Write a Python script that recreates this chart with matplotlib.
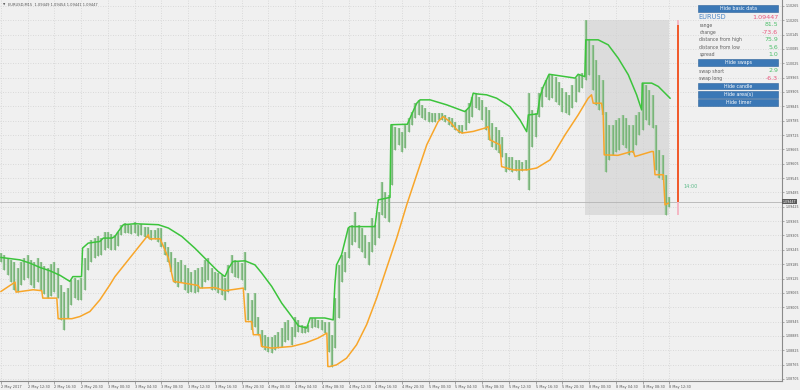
import matplotlib
matplotlib.use("Agg")
import matplotlib.pyplot as plt
from matplotlib.patches import Rectangle
import numpy as np

# ---------------- data (EURUSD, 30-minute bars) ----------------
bar_high = [
    1.09232, 1.09224, 1.09212, 1.09203, 1.09195, 1.09170, 1.09195, 1.09212, 1.09224, 1.09203,
    1.09195, 1.09212, 1.09195, 1.09178, 1.09170, 1.09186, 1.09195, 1.09170, 1.09099, 1.09069,
    1.09086, 1.09120, 1.09128, 1.09120, 1.09128, 1.09212, 1.09253, 1.09287, 1.09295, 1.09304,
    1.09295, 1.09320, 1.09320, 1.09312, 1.09308, 1.09320, 1.09350, 1.09358, 1.09354, 1.09350,
    1.09362, 1.09350, 1.09354, 1.09341, 1.09341, 1.09329, 1.09329, 1.09337, 1.09337, 1.09278,
    1.09257, 1.09237, 1.09212, 1.09195, 1.09203, 1.09182, 1.09170, 1.09153, 1.09161, 1.09170,
    1.09174, 1.09203, 1.09212, 1.09170, 1.09153, 1.09149, 1.09140, 1.09128, 1.09182, 1.09224,
    1.09203, 1.09195, 1.09191, 1.09237, 1.09065, 1.09036, 1.09065, 1.08965, 1.08911, 1.08890,
    1.08881, 1.08881, 1.08890, 1.08902, 1.08919, 1.08944, 1.08952, 1.08923, 1.08965, 1.08952,
    1.08932, 1.08927, 1.08932, 1.08961, 1.08961, 1.08952, 1.08952, 1.08944, 1.08944, 1.08890,
    1.09044, 1.09182, 1.09224, 1.09237, 1.09337, 1.09350, 1.09404, 1.09350, 1.09337, 1.09308,
    1.09278, 1.09379, 1.09350, 1.09404, 1.09529, 1.09487, 1.09475, 1.09768, 1.09759, 1.09755,
    1.09738, 1.09768, 1.09797, 1.09822, 1.09860, 1.09872, 1.09851, 1.09839, 1.09822, 1.09818,
    1.09818, 1.09818, 1.09818, 1.09809, 1.09801, 1.09797, 1.09780, 1.09768, 1.09768, 1.09830,
    1.09860, 1.09885, 1.09901, 1.09885, 1.09872, 1.09843, 1.09830, 1.09776, 1.09759, 1.09747,
    1.09717, 1.09651, 1.09634, 1.09634, 1.09621, 1.09621, 1.09613, 1.09621, 1.09901, 1.09830,
    1.09818, 1.09901, 1.09926, 1.09956, 1.09977, 1.09977, 1.09968, 1.09947, 1.09922, 1.09905,
    1.09893, 1.09935, 1.09964, 1.09977, 1.09985, 1.10206, 1.10123, 1.10102, 1.10039, 1.09977,
    1.09956, 1.09822, 1.09768, 1.09768, 1.09788, 1.09797, 1.09809, 1.09797, 1.09768, 1.09768,
    1.09809, 1.09822, 1.09943, 1.09935, 1.09914, 1.09893, 1.09768, 1.09663, 1.09642, 1.09559,
    1.09465,
]
bar_low = [
    1.09195, 1.09161, 1.09140, 1.09111, 1.09078, 1.09069, 1.09099, 1.09120, 1.09128, 1.09099,
    1.09086, 1.09111, 1.09078, 1.09061, 1.09044, 1.09053, 1.09069, 1.09044, 1.08952, 1.08911,
    1.08961, 1.09015, 1.09044, 1.09036, 1.09036, 1.09078, 1.09161, 1.09195, 1.09212, 1.09220,
    1.09224, 1.09245, 1.09253, 1.09245, 1.09245, 1.09262, 1.09308, 1.09316, 1.09316, 1.09312,
    1.09316, 1.09304, 1.09308, 1.09299, 1.09295, 1.09287, 1.09291, 1.09278, 1.09257, 1.09224,
    1.09195, 1.09153, 1.09107, 1.09090, 1.09111, 1.09078, 1.09065, 1.09069, 1.09065, 1.09069,
    1.09086, 1.09111, 1.09120, 1.09078, 1.09078, 1.09065, 1.09057, 1.09036, 1.09069, 1.09149,
    1.09132, 1.09128, 1.09120, 1.09078, 1.08952, 1.08911, 1.08923, 1.08890, 1.08840, 1.08827,
    1.08819, 1.08815, 1.08827, 1.08835, 1.08840, 1.08860, 1.08869, 1.08848, 1.08881, 1.08902,
    1.08898, 1.08898, 1.08902, 1.08919, 1.08923, 1.08919, 1.08911, 1.08898, 1.08819, 1.08756,
    1.08835, 1.08961, 1.09111, 1.09153, 1.09212, 1.09266, 1.09278, 1.09253, 1.09237, 1.09212,
    1.09182, 1.09237, 1.09266, 1.09295, 1.09391, 1.09379, 1.09362, 1.09517, 1.09663, 1.09684,
    1.09655, 1.09671, 1.09738, 1.09768, 1.09797, 1.09809, 1.09797, 1.09788, 1.09780, 1.09780,
    1.09780, 1.09788, 1.09788, 1.09780, 1.09768, 1.09759, 1.09747, 1.09734, 1.09734, 1.09747,
    1.09776, 1.09801, 1.09839, 1.09830, 1.09788, 1.09747, 1.09705, 1.09676, 1.09663, 1.09651,
    1.09634, 1.09571, 1.09579, 1.09571, 1.09575, 1.09538, 1.09575, 1.09579, 1.09496, 1.09676,
    1.09717, 1.09801, 1.09843, 1.09885, 1.09872, 1.09880, 1.09864, 1.09851, 1.09822, 1.09818,
    1.09809, 1.09839, 1.09864, 1.09905, 1.09922, 1.09956, 1.09977, 1.09914, 1.09851, 1.09830,
    1.09809, 1.09571, 1.09621, 1.09642, 1.09655, 1.09663, 1.09684, 1.09671, 1.09642, 1.09651,
    1.09684, 1.09726, 1.09747, 1.09788, 1.09768, 1.09755, 1.09579, 1.09546, 1.09538, 1.09391,
    1.09425,
]

# upper (green) line: bar index / price knots
green_x = [0, 5.7, 8.7, 11.7, 14.7, 17.7, 20.6, 21.5, 24.1, 24.4, 26.1, 29.6, 30.6, 33.2, 34.1,
           35.1, 36.6, 40.1, 47.1, 50.1, 54.1, 58.0, 62.0, 65.0, 67.0, 68.2, 69.4, 73.0, 76.0,
           78.0, 81.0, 84.0, 87.0, 89.0, 91.5, 92.5, 96.9, 99.4, 99.9, 100.4, 101.9, 103.9,
           104.4, 111.9, 112.9, 116.4, 116.7, 121.6, 122.4, 124.4, 125.4, 128.4, 133.4, 138.8,
           140.3, 141.3, 142.3, 145.3, 148.3, 152.3, 155.3, 157.3, 157.8, 160.5, 161.3, 162.3,
           164.0, 171.8, 172.7, 174.7, 175.0, 178.7, 181.7, 184.7, 187.7, 190.2, 191.7, 191.9,
           194.7, 196.7, 198.7, 200.2]
green_y = [1.09213, 1.09203, 1.09189, 1.09171, 1.09157, 1.09138, 1.09113, 1.09133, 1.09133,
           1.09252, 1.09273, 1.09280, 1.09294, 1.09294, 1.09301, 1.09322, 1.09350, 1.09354,
           1.09350, 1.09336, 1.09301, 1.09252, 1.09196, 1.09154, 1.09133, 1.09170, 1.09196,
           1.09199, 1.09182, 1.09148, 1.09092, 1.09022, 1.08966, 1.08927, 1.08918, 1.08960,
           1.08960, 1.08952, 1.09099, 1.09182, 1.09224, 1.09336, 1.09342, 1.09342, 1.09454,
           1.09464, 1.09768, 1.09770, 1.09796, 1.09858, 1.09872, 1.09872, 1.09851, 1.09823,
           1.09844, 1.09900, 1.09897, 1.09893, 1.09879, 1.09844, 1.09788, 1.09739, 1.09809,
           1.09813, 1.09886, 1.09928, 1.09979, 1.09963, 1.09979, 1.09969, 1.10123, 1.10123,
           1.10102, 1.10046, 1.09977, 1.09893, 1.09830, 1.09942, 1.09942, 1.09928, 1.09900,
           1.09879]

# lower (orange) line: bar index / price knots
orange_x = [0, 4.2, 4.5, 9.6, 12.2, 12.5, 16.7, 17.1, 21.2, 23.6, 26.6, 29.6, 32.6, 34.1, 44.1,
            44.4, 47.6, 48.6, 50.1, 51.6, 59.0, 59.5, 64.0, 67.0, 72.5, 73.2, 75.0, 75.5, 77.5,
            78.0, 81.0, 87.0, 91.0, 94.9, 97.5, 97.8, 98.4, 100.4, 103.4, 106.4, 109.4, 112.4,
            115.4, 118.4, 121.4, 124.4, 127.4, 130.8, 132.3, 134.3, 136.4, 137.9, 141.3, 144.8,
            145.8, 146.3, 149.3, 149.8, 153.3, 157.3, 160.3, 164.3, 168.8, 172.7, 175.7, 176.7,
            177.2, 179.7, 180.2, 180.5, 184.6, 188.7, 189.2, 189.7, 194.7, 195.2, 195.7, 198.2,
            198.7, 199.7]
orange_y = [1.09071, 1.09110, 1.09068, 1.09078, 1.09074, 1.09043, 1.09043, 1.08957, 1.08957,
            1.08966, 1.08987, 1.09036, 1.09099, 1.09133, 1.09308, 1.09291, 1.09291, 1.09259,
            1.09210, 1.09113, 1.09096, 1.09085, 1.09087, 1.09074, 1.09085, 1.08945, 1.08945,
            1.08890, 1.08890, 1.08841, 1.08834, 1.08841, 1.08855, 1.08876, 1.08897, 1.08757,
            1.08757, 1.08764, 1.08792, 1.08848, 1.08932, 1.09043, 1.09169, 1.09294, 1.09433,
            1.09559, 1.09684, 1.09781, 1.09802, 1.09781, 1.09747, 1.09733, 1.09740, 1.09754,
            1.09760, 1.09705, 1.09684, 1.09593, 1.09579, 1.09579, 1.09587, 1.09621, 1.09726,
            1.09809, 1.09879, 1.09893, 1.09858, 1.09858, 1.09809, 1.09642, 1.09640, 1.09656,
            1.09656, 1.09635, 1.09656, 1.09656, 1.09559, 1.09559, 1.09433, 1.09440]

time_labels = ["2 May 2017", "2 May 12:30", "2 May 16:30", "2 May 20:30", "3 May 00:30",
               "3 May 04:30", "3 May 08:30", "3 May 12:30", "3 May 16:30", "3 May 20:30",
               "4 May 00:30", "4 May 04:30", "4 May 08:30", "4 May 12:30", "4 May 16:30",
               "4 May 20:30", "5 May 00:30", "5 May 04:30", "5 May 08:30", "5 May 12:30",
               "5 May 16:30", "5 May 20:30", "8 May 00:30", "8 May 04:30", "8 May 08:30",
               "8 May 12:30"]
price_ticks = [1.08705, 1.08765, 1.08825, 1.08885, 1.08945, 1.09005, 1.09065, 1.09125,
               1.09185, 1.09245, 1.09305, 1.09365, 1.09425, 1.09485, 1.09545, 1.09605,
               1.09665, 1.09725, 1.09785, 1.09845, 1.09905, 1.09965, 1.10025, 1.10085,
               1.10145, 1.10205, 1.10265]

symbol = "EURUSD"
title_ohlc = "EURUSD,M15  1.09449 1.09454 1.09441 1.09447"
last_price = 1.09447
info_rows = [("range", 81.5), ("change", -73.6), ("distance from high", 75.9),
             ("distance from low", 5.6), ("spread", 1.0)]
swap_rows = [("swap short", 2.9), ("swap long", -6.3)]
timer_text = "14:00"
area_first_bar = 175
area_last_bar = 200

# ---------------- figure ----------------
W, H = 800, 390
BG = '#f0f0f0'
plt.rcParams['font.family'] = ['DejaVu Sans']
fig = plt.figure(figsize=(W / 100, H / 100), dpi=100)
fig.patch.set_facecolor(BG)
ax = fig.add_axes([0, 9 / H, 782 / W, 381 / H])
ax.set_facecolor(BG)

idx = np.arange(len(bar_high))
ax.vlines(idx, bar_low, bar_high, color='#93c493', lw=1.75, zorder=3)
ax.vlines(idx, bar_low, bar_high, color='#76b276', lw=0.6, zorder=3.1)
ax.plot(green_x, green_y, color='#3cc43c', lw=1.1, zorder=4, solid_joinstyle='round')
ax.plot(orange_x, orange_y, color='#f8a62a', lw=1.1, zorder=4, solid_joinstyle='round')

ax.set_xlim(-0.3, 233.7)
ax.set_ylim(1.086965, 1.102895)

# area rectangle
a_hi = max(bar_high[area_first_bar:area_last_bar + 1])
a_lo = min(bar_low[area_first_bar:area_last_bar + 1])
ax.add_patch(Rectangle((area_first_bar - 0.1, a_lo), area_last_bar - area_first_bar + 0.1,
                       a_hi - a_lo, fc='#dcdcdc', ec='none', zorder=0.3))

# range / change line
area_open = last_price - info_rows[1][1] * 0.0001
ax.vlines(202.7, a_lo, a_hi, color='#f5b7c3', lw=1.4, zorder=5)
ax.vlines(202.7, last_price, area_open, color='#f15a2a', lw=1.4, zorder=6)
ax.text(204.2, 1.09508, timer_text, color='#5dbb8a', fontsize=3.6, va='center', ha='left', zorder=6)

# current price line and label
ax.axhline(last_price, color='#b4b4b4', lw=0.6, zorder=2)
ax.text(1.001, last_price, f"{last_price:.5f}", transform=ax.get_yaxis_transform(),
        fontsize=2.3, color='white', va='center', ha='left', clip_on=False, zorder=10,
        bbox=dict(boxstyle='square,pad=0.3', fc='#5a5a5a', ec='none'))

# axes, ticks, grid
ax.set_xticks(np.arange(len(time_labels)) * 8)
ax.set_xticklabels(time_labels, ha='left')
ax.set_yticks(price_ticks)
ax.set_yticklabels([f"{p:.5f}" for p in price_ticks])
ax.yaxis.tick_right()
ax.tick_params(axis='y', length=1.5, width=0.5, colors='#8a8a8a', labelsize=2.3,
               labelcolor='#555555', pad=0.8)
ax.tick_params(axis='x', length=2, width=0.5, colors='#8a8a8a', labelsize=2.5,
               labelcolor='#555555', pad=1.0)
ax.grid(True, color='#d2d2d2', ls=(0, (1, 2)), lw=0.6)
ax.set_axisbelow(True)
for s in ('top', 'left'):
    ax.spines[s].set_visible(False)
for s in ('right', 'bottom'):
    ax.spines[s].set_color('#8a8a8a')
    ax.spines[s].set_linewidth(0.8)

# title
fig.text(2.5 / W, 1 - 4.5 / H, '\u25BC', fontsize=2.2, color='#555555', va='center', ha='left')
fig.text(8 / W, 1 - 4.5 / H, title_ohlc, fontsize=2.6, color='#555555', va='center', ha='left')

# info panel
PX0, PX1 = 698.3, 778.3
GREEN = '#4cbf6a'
PINK = '#e8557c'


def button(y0, y1, label):
    fig.patches.append(Rectangle((PX0 / W, 1 - y1 / H), (PX1 - PX0) / W, (y1 - y0) / H,
                                 transform=fig.transFigure, fc='#3b78b6', ec='#2b6299',
                                 lw=0.4, zorder=5))
    fig.text((PX0 + PX1) / 2 / W, 1 - (y0 + y1) / 2 / H, label, fontsize=3.4,
             color='white', ha='center', va='center', zorder=6)


def row(y, label, value):
    fig.text((PX0 + 1) / W, 1 - y / H, label, fontsize=3.3, color='#606060',
             ha='left', va='center')
    fig.text(PX1 / W, 1 - y / H, f"{value:.1f}", fontsize=4.5,
             color=GREEN if value >= 0 else PINK, ha='right', va='center')


button(5.0, 12.3, "Hide basic data")
fig.text((PX0 + 0.5) / W, 1 - 17.3 / H, symbol, fontsize=4.8, color='#4a86c5',
         ha='left', va='center')
fig.text(PX1 / W, 1 - 17.3 / H, f"{last_price:.5f}", fontsize=4.6, color=PINK,
         ha='right', va='center')
for k, (lab, val) in enumerate(info_rows):
    row(25.0 + 7.4 * k, lab, val)
button(59.3, 65.7, "Hide swaps")
for k, (lab, val) in enumerate(swap_rows):
    row(71.0 + 7.3 * k, lab, val)
button(83.3, 89.3, "Hide candle")
button(91.0, 97.7, "Hide area(s)")
button(98.7, 105.7, "Hide timer")

fig.savefig("out.png", dpi=100, facecolor=BG)
